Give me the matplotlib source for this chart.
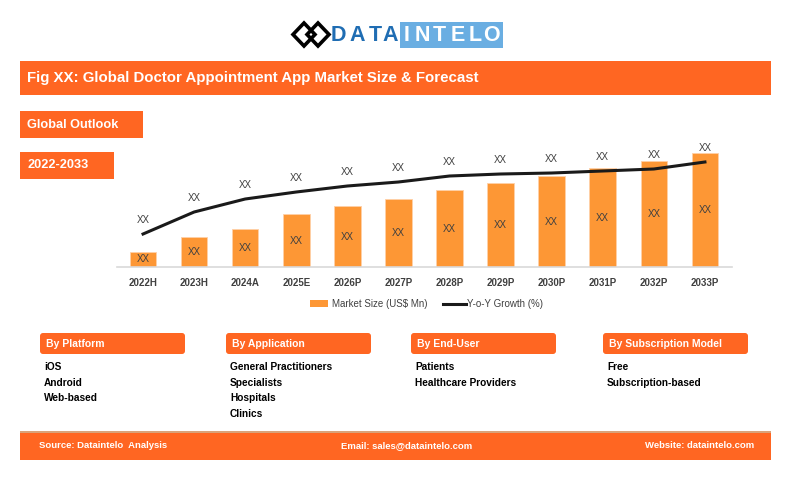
import matplotlib
matplotlib.use("Agg")
import matplotlib.pyplot as plt
from matplotlib.patches import Rectangle, FancyBboxPatch, Polygon
from matplotlib.lines import Line2D

W, H = 794, 482

years = ["2022H", "2023H", "2024A", "2025E", "2026P", "2027P",
         "2028P", "2029P", "2030P", "2031P", "2032P", "2033P"]
market_size = [15, 30, 38, 53, 61, 68, 77, 84, 91, 99, 106, 114]
yoy_growth = [33, 55, 68, 75, 81, 85, 91, 93, 94, 96, 98, 105]
bar_labels = ["XX"] * len(years)
line_labels = ["XX"] * len(years)

segments = ["By Platform", "By Application", "By End-User", "By Subscription Model"]
segment_items = [
    ["iOS", "Android", "Web-based"],
    ["General Practitioners", "Specialists", "Hospitals", "Clinics"],
    ["Patients", "Healthcare Providers"],
    ["Free", "Subscription-based"],
]

ORANGE = "#FF6622"
BAR = "#FD9735"
TEXT = "#404040"
ARIAL = ["Liberation Sans", "DejaVu Sans"]

fig = plt.figure(figsize=(W / 100, H / 100), dpi=100)
bg = fig.add_axes([0, 0, 1, 1])
bg.set_xlim(0, W)
bg.set_ylim(H, 0)
bg.axis("off")


def box(x0, y0, x1, y1, color=ORANGE, rounded=False):
    if rounded:
        bg.add_patch(FancyBboxPatch((x0, y0), x1 - x0, y1 - y0,
                                    boxstyle="round,pad=0,rounding_size=3",
                                    fc=color, ec="none"))
    else:
        bg.add_patch(Rectangle((x0, y0), x1 - x0, y1 - y0, fc=color, ec="none"))


def label(x, y, s, size, color="white", ha="left", weight="bold"):
    bg.text(x, y, s, color=color, fontsize=size, fontweight=weight,
            family=ARIAL, va="center", ha=ha)


# logo
for cx in (304, 318):
    bg.add_patch(Polygon([(cx, 23), (cx + 11, 34.5), (cx, 46), (cx - 11, 34.5)],
                         closed=True, fc="none", ec="black", lw=2.6))
box(400, 22, 503, 48, color="#6AAEE2")
for ch, cx in zip("DATA", [338, 357, 375, 390]):
    label(cx, 35.5, ch, 15.5, color="#1F6DB3", ha="center")
for ch, cx in zip("INTELO", [407, 422, 439, 458, 475, 491]):
    label(cx, 35.5, ch, 15.5, ha="center")

# title bar
box(20, 61, 771, 95)
label(27, 78, "Fig XX: Global Doctor Appointment App Market Size & Forecast", 10.8)

box(20, 111, 143, 138)
label(27, 124.5, "Global Outlook", 9.2)
box(20, 152, 114, 179)
label(28, 165.5, "2022-2033", 9.2)

# chart
ax = fig.add_axes([117 / W, 1 - 267 / H, (732 - 117) / W, 127 / H])
x = list(range(len(years)))
ax.bar(x, market_size, width=0.52, color=BAR, edgecolor="#FFD0A8", lw=0.6, zorder=2)
ax.plot(x, yoy_growth, color="#1A1A1A", lw=2.2, zorder=3)
for i in x:
    ax.text(i, market_size[i] / 2, bar_labels[i], ha="center", va="center",
            fontsize=7, color=TEXT, family=ARIAL)
    ax.annotate(line_labels[i], (i, yoy_growth[i]), xytext=(0, 14),
                textcoords="offset pixels", ha="center", va="center",
                fontsize=7, color=TEXT, family=ARIAL)
ax.set_xlim(-0.51, 11.53)
ax.set_ylim(0, 127)
ax.set_xticks(x)
ax.set_xticklabels(years, fontsize=7, fontweight="bold", color=TEXT, family=ARIAL)
ax.tick_params(axis="x", length=0, pad=8)
ax.set_yticks([])
for s in ["top", "right", "left"]:
    ax.spines[s].set_visible(False)
ax.spines["bottom"].set_color("#D9D9D9")
ax.spines["bottom"].set_linewidth(1.2)
ax.patch.set_alpha(0)

# legend
box(310, 300, 328, 307, color=BAR)
label(332, 304, "Market Size (US$ Mn)", 7, color=TEXT, weight="normal")
bg.add_line(Line2D([443, 466], [304, 304], color="#1A1A1A", lw=2.2))
label(467, 304, "Y-o-Y Growth (%)", 7, color=TEXT, weight="normal")

# segments
seg_x = [40, 226, 411, 603]
for sx, name, items in zip(seg_x, segments, segment_items):
    box(sx, 333, sx + 145, 354, rounded=True)
    label(sx + 6, 344, name, 7.5)
    for k, item in enumerate(items):
        label(sx + 4, 367 + k * 15.7, item, 7.3, color="black")

# footer
box(20, 431, 771, 433, color="#D9A37A")
box(20, 433, 771, 460)
label(39, 446, "Source: Dataintelo  Analysis", 6.8)
label(407, 446, "Email: sales@dataintelo.com", 6.8, ha="center")
label(754, 446, "Website: dataintelo.com", 6.8, ha="right")

fig.savefig("out.png", dpi=100)
